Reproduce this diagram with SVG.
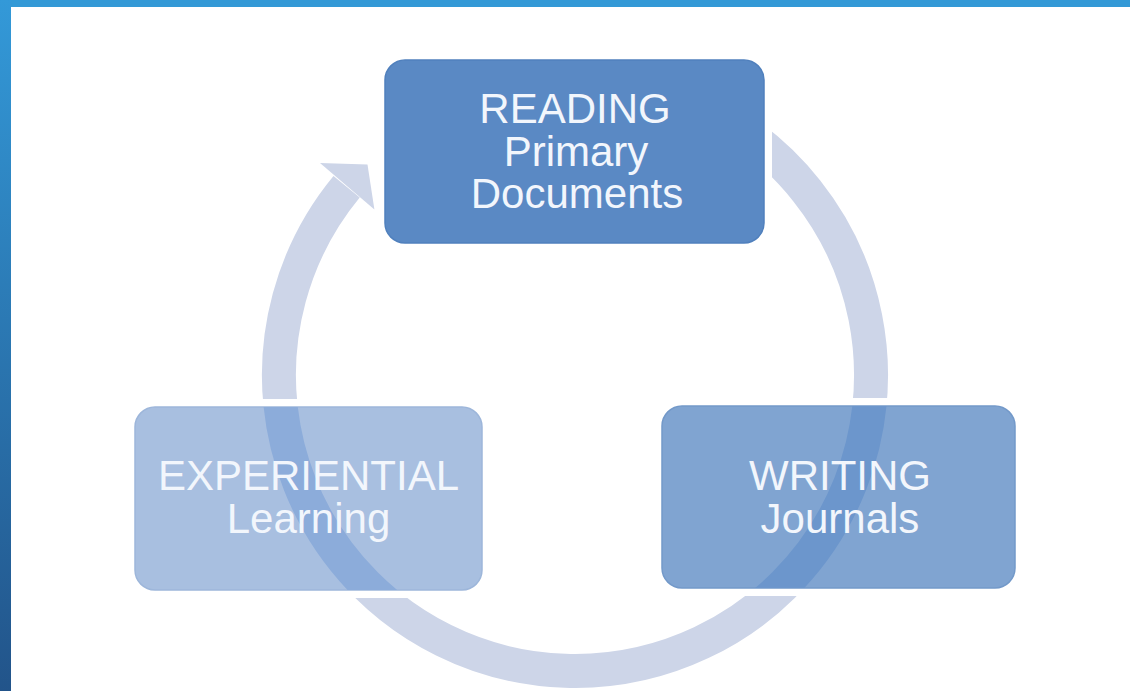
<svg xmlns="http://www.w3.org/2000/svg" width="1130" height="691" viewBox="0 0 1130 691">
  <style>
    .lbl { font-family: "Liberation Sans", Arial, sans-serif; font-size: 42px; fill: #f2f6fc; text-anchor: middle; }
    .ring { fill: none; stroke-width: 34; }
  </style>
  <defs>
    <linearGradient id="sideGrad" x1="0" y1="0" x2="0" y2="1">
      <stop offset="0" stop-color="#3399d8"/>
      <stop offset="1" stop-color="#22548a"/>
    </linearGradient>
    <mask id="ringMask" maskUnits="userSpaceOnUse" x="0" y="0" width="1130" height="691">
      <rect x="0" y="0" width="1130" height="691" fill="#fff"/>
      <rect x="377" y="52" width="395" height="199" rx="26" fill="#000"/>
      <rect x="127" y="399" width="363" height="199" rx="26" fill="#000"/>
      <rect x="654" y="398" width="369" height="198" rx="26" fill="#000"/>
    </mask>
    <clipPath id="clipExp"><rect x="135" y="407" width="347" height="183" rx="20"/></clipPath>
    <clipPath id="clipWri"><rect x="662" y="406" width="353" height="182" rx="20"/></clipPath>
  </defs>

  <rect x="0" y="0" width="1130" height="691" fill="#ffffff"/>
  <rect x="0" y="0" width="1130" height="7" fill="#3399d6"/>
  <rect x="0" y="0" width="11" height="691" fill="url(#sideGrad)"/>

  <g id="connectors">
    <g mask="url(#ringMask)">
      <path class="ring" stroke="#cdd5e8" d="M 575 79 A 296 296 0 1 1 346.6 186.7"/>
      <polygon fill="#cdd5e8" points="320,163 374.4,209.6 367.5,164.5"/>
    </g>
  </g>

  <g id="node-reading">
    <rect x="385" y="60" width="379" height="183" rx="20" fill="#5a89c4" stroke="#5080bd" stroke-width="1.5"/>
    <text class="lbl"><tspan x="575" y="123">READING</tspan><tspan x="576" y="165.5">Primary</tspan><tspan x="577" y="208">Documents</tspan></text>
  </g>

  <g id="node-writing">
    <rect x="662" y="406" width="353" height="182" rx="20" fill="#80a4d1" stroke="#7399c9" stroke-width="1.5"/>
    <circle class="ring" cx="575" cy="375" r="296" stroke="#6c96cc" clip-path="url(#clipWri)"/>
    <text class="lbl"><tspan x="840" y="489.5">WRITING</tspan><tspan x="840" y="532.5">Journals</tspan></text>
  </g>

  <g id="node-experiential">
    <rect x="135" y="407" width="347" height="183" rx="20" fill="#a8bfe0" stroke="#9db6da" stroke-width="1.5"/>
    <circle class="ring" cx="575" cy="375" r="296" stroke="#8cacda" clip-path="url(#clipExp)"/>
    <text class="lbl"><tspan x="308.5" y="489.5">EXPERIENTIAL</tspan><tspan x="308.5" y="532.5">Learning</tspan></text>
  </g>
</svg>
